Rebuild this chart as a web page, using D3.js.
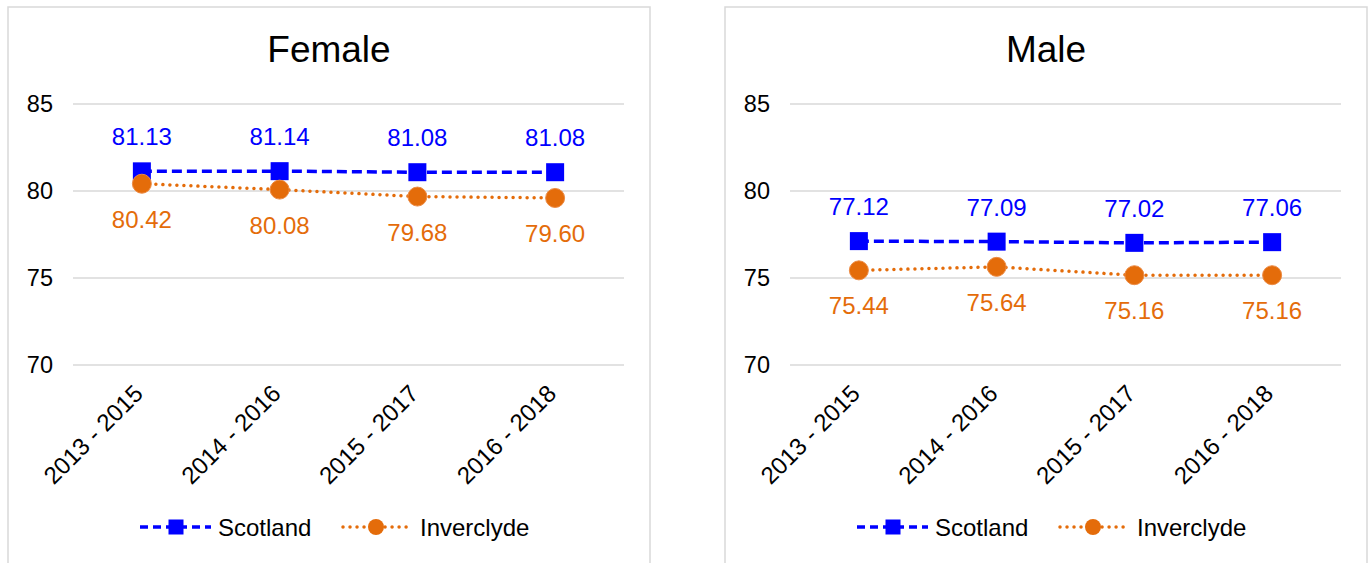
<!DOCTYPE html>
<html><head><meta charset="utf-8">
<script src="https://cdn.jsdelivr.net/npm/d3@7"></script>
<style>
html,body{margin:0;padding:0;background:#fff;}
svg{display:block;font-family:"Liberation Sans",Arial,sans-serif;}
</style></head>
<body>
<svg id="chart" width="1370" height="563"></svg>
<script>
const categories = ["2013 - 2015","2014 - 2016","2015 - 2017","2016 - 2018"];
const panelTitles = ["Female","Male"];
const seriesNames = ["Scotland","Inverclyde"];
const femaleScotland = [81.13, 81.14, 81.08, 81.08];
const femaleInverclyde = [80.42, 80.08, 79.68, 79.60];
const maleScotland = [77.12, 77.09, 77.02, 77.06];
const maleInverclyde = [75.44, 75.64, 75.16, 75.16];
const yTicks = [70, 75, 80, 85];

const BLUE = "#0000FF", ORANGE = "#E46C0A";
const FONT = "Liberation Sans, Arial, sans-serif";
const panels = [
  {title: panelTitles[0], scot: femaleScotland, inv: femaleInverclyde, x0: 8},
  {title: panelTitles[1], scot: maleScotland, inv: maleInverclyde, x0: 725}
];
const svg = d3.select("#chart");
const PW = 642, PH = 570;

panels.forEach(p => {
  const g = svg.append("g").attr("transform", `translate(${p.x0},7)`);
  g.append("rect").attr("x",0).attr("y",0).attr("width",PW).attr("height",PH)
    .attr("fill","#fff").attr("stroke","#d9d9d9").attr("stroke-width",1.5);
  g.append("text").attr("x",PW/2).attr("y",55).attr("text-anchor","middle")
    .attr("font-size",37).attr("fill","#000").text(p.title);

  const x = d3.scalePoint().domain(categories).range([65, 616]).padding(0.5);
  const y = d3.scaleLinear().domain([70,85]).range([358, 97]);

  // gridlines
  g.append("g").selectAll("line").data(yTicks).join("line")
    .attr("x1",65).attr("x2",616).attr("y1",d=>y(d)).attr("y2",d=>y(d))
    .attr("stroke","#d9d9d9").attr("stroke-width",1.5);
  // y axis labels
  const ya = g.append("g").attr("transform","translate(45,0)")
    .call(d3.axisLeft(y).tickValues(yTicks).tickSize(0).tickPadding(0).tickFormat(d3.format("d")));
  ya.select(".domain").remove();
  ya.selectAll("text").attr("font-size",23.5).attr("fill","#000").attr("font-family",FONT);

  // x axis labels
  const xa = g.append("g").attr("transform",`translate(0,${y(70)})`)
    .call(d3.axisBottom(x).tickSize(0));
  xa.select(".domain").remove();
  xa.selectAll("text").attr("font-size",24).attr("fill","#000")
    .attr("font-family",FONT)
    .attr("text-anchor","end").attr("dy",null).attr("y",null)
    .attr("transform","translate(2,30) rotate(-45)");

  const line = d3.line().x((d,i)=>x(categories[i])).y(d=>y(d));
  // Inverclyde
  g.append("path").datum(p.inv).attr("d",line).attr("fill","none")
    .attr("stroke",ORANGE).attr("stroke-width",3.5).attr("stroke-linecap","round")
    .attr("stroke-dasharray","0.01,7");
  // Scotland
  g.append("path").datum(p.scot).attr("d",line).attr("fill","none")
    .attr("stroke",BLUE).attr("stroke-width",3.5).attr("stroke-dasharray","10,5");

  g.selectAll(".sq").data(p.scot).join("rect").attr("class","sq")
    .attr("x",(d,i)=>x(categories[i])-9).attr("y",d=>y(d)-9)
    .attr("width",18).attr("height",18).attr("fill",BLUE);
  g.selectAll(".ci").data(p.inv).join("circle").attr("class","ci")
    .attr("cx",(d,i)=>x(categories[i])).attr("cy",d=>y(d)).attr("r",9.5)
    .attr("fill",ORANGE).attr("stroke","#EC8B45").attr("stroke-width",1);

  g.selectAll(".ls").data(p.scot).join("text").attr("class","ls")
    .attr("x",(d,i)=>x(categories[i])).attr("y",d=>y(d)-26)
    .attr("text-anchor","middle").attr("font-size",24).attr("fill",BLUE)
    .text(d=>d.toFixed(2));
  g.selectAll(".li").data(p.inv).join("text").attr("class","li")
    .attr("x",(d,i)=>x(categories[i])).attr("y",d=>y(d)+44)
    .attr("text-anchor","middle").attr("font-size",24).attr("fill",ORANGE)
    .text(d=>d.toFixed(2));

  // legend
  const ly = 520;
  const l1 = g.append("g");
  l1.append("line").attr("x1",132).attr("x2",203).attr("y1",ly).attr("y2",ly)
    .attr("stroke",BLUE).attr("stroke-width",3.5).attr("stroke-dasharray","8,5");
  l1.append("rect").attr("x",168-7.5).attr("y",ly-7.5).attr("width",15).attr("height",15).attr("fill",BLUE);
  l1.append("text").attr("x",210).attr("y",ly+8.5).attr("font-size",24).attr("fill","#000").text(seriesNames[0]);
  const l2 = g.append("g");
  l2.append("line").attr("x1",335).attr("x2",402).attr("y1",ly).attr("y2",ly)
    .attr("stroke",ORANGE).attr("stroke-width",3.5).attr("stroke-linecap","round").attr("stroke-dasharray","0.01,7");
  l2.append("circle").attr("cx",368).attr("cy",ly).attr("r",8).attr("fill",ORANGE);
  l2.append("text").attr("x",412).attr("y",ly+8.5).attr("font-size",24).attr("fill","#000").text(seriesNames[1]);
});
</script>
</body></html>
